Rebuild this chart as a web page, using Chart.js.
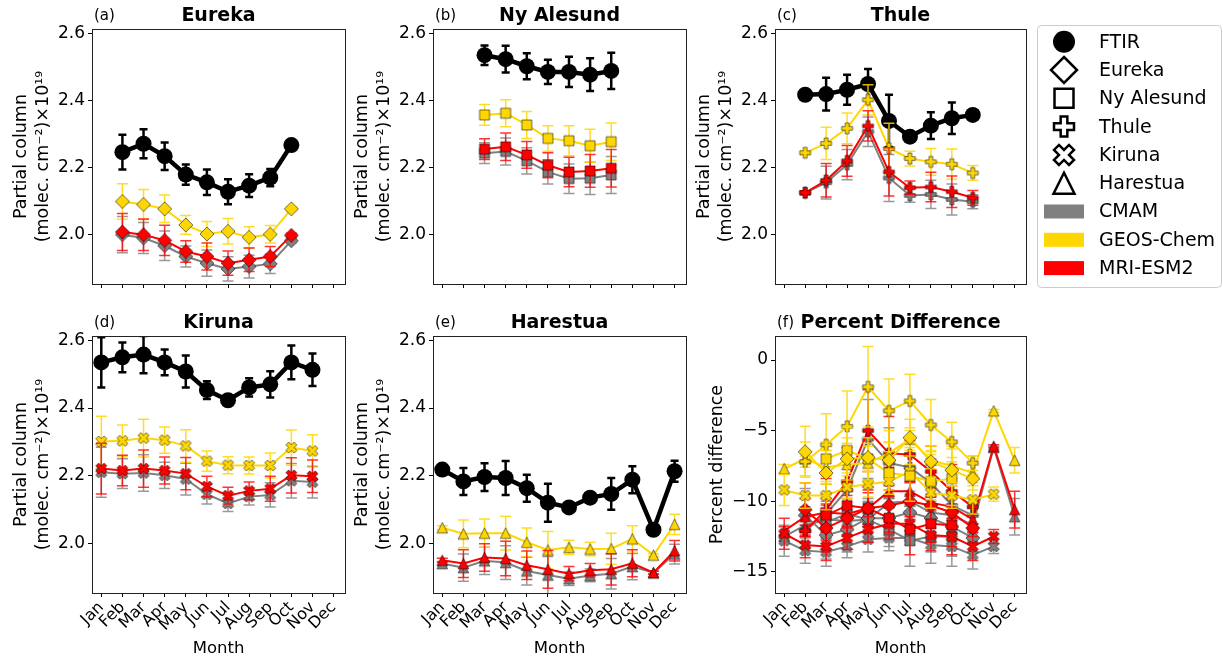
<!DOCTYPE html>
<html lang="en">
<head>
<meta charset="UTF-8">
<title>Partial column comparison</title>
<script src="https://cdn.jsdelivr.net/npm/chart.js"></script>
<style>
  body { margin: 0; background: #fff; }
  #wrap { position: relative; width: 1223px; height: 663px; overflow: hidden; background: #fff; }
  #wrap canvas { position: absolute; }
</style>
</head>
<body>
<div id="wrap">
  <canvas id="panelA"></canvas>
  <canvas id="panelB"></canvas>
  <canvas id="panelC"></canvas>
  <canvas id="panelD"></canvas>
  <canvas id="panelE"></canvas>
  <canvas id="panelF"></canvas>
  <canvas id="legend"></canvas>
</div>
<script>
// ---- data ----
const MONTH_NAMES = ['Jan', 'Feb', 'Mar', 'Apr', 'May', 'Jun', 'Jul', 'Aug', 'Sep', 'Oct', 'Nov', 'Dec'];
const MONTH_TICKS = [1, 2, 3, 4, 5, 6, 7, 8, 9, 10, 11, 12];
const COLUMN_TICKS = [2.0, 2.2, 2.4, 2.6];
const PERCENT_TICKS = [0, -5, -10, -15];

// Eureka
const eurekaMonths = [2, 3, 4, 5, 6, 7, 8, 9, 10];
const eurekaFtir = [2.246, 2.271, 2.234, 2.179, 2.156, 2.128, 2.146, 2.170, 2.267];
const eurekaFtirErr = [0.052, 0.043, 0.041, 0.030, 0.038, 0.037, 0.034, 0.026, 0.008];
const eurekaCmam = [2.000, 1.990, 1.967, 1.935, 1.915, 1.898, 1.905, 1.913, 1.982];
const eurekaCmamErr = [0.054, 0.046, 0.044, 0.031, 0.039, 0.036, 0.034, 0.029, 0.006];
const eurekaGeos = [2.099, 2.090, 2.077, 2.029, 2.002, 2.010, 1.992, 2.001, 2.077];
const eurekaGeosErr = [0.053, 0.045, 0.041, 0.028, 0.037, 0.038, 0.032, 0.026, 0.006];
const eurekaMri = [2.008, 2.000, 1.983, 1.950, 1.935, 1.915, 1.925, 1.935, 1.998];
const eurekaMriErr = [0.055, 0.047, 0.045, 0.032, 0.040, 0.036, 0.035, 0.030, 0.006];

// Ny Alesund
const nyMonths = [3, 4, 5, 6, 7, 8, 9];
const nyFtir = [2.535, 2.523, 2.502, 2.485, 2.485, 2.477, 2.488];
const nyFtirErr = [0.029, 0.040, 0.039, 0.036, 0.045, 0.049, 0.054];
const nyCmam = [2.243, 2.248, 2.220, 2.187, 2.167, 2.168, 2.178];
const nyCmamErr = [0.031, 0.040, 0.039, 0.036, 0.044, 0.048, 0.055];
const nyGeos = [2.357, 2.362, 2.327, 2.287, 2.280, 2.265, 2.277];
const nyGeosErr = [0.031, 0.040, 0.040, 0.038, 0.045, 0.049, 0.056];
const nyMri = [2.255, 2.262, 2.238, 2.207, 2.187, 2.190, 2.198];
const nyMriErr = [0.031, 0.041, 0.040, 0.037, 0.044, 0.049, 0.056];

// Thule
const thuleMonths = [2, 3, 4, 5, 6, 7, 8, 9, 10];
const thuleFtir = [2.417, 2.419, 2.432, 2.449, 2.339, 2.292, 2.325, 2.347, 2.357];
const thuleFtirErr = [0.008, 0.049, 0.045, 0.045, 0.078, 0.008, 0.040, 0.047, 0.010];
const thuleCmam = [2.125, 2.155, 2.209, 2.307, 2.169, 2.117, 2.120, 2.105, 2.098];
const thuleCmamErr = [0.006, 0.049, 0.045, 0.044, 0.070, 0.020, 0.042, 0.046, 0.021];
const thuleGeos = [2.244, 2.272, 2.317, 2.402, 2.257, 2.227, 2.217, 2.210, 2.184];
const thuleGeosErr = [0.006, 0.048, 0.046, 0.045, 0.075, 0.022, 0.040, 0.045, 0.022];
const thuleMri = [2.125, 2.162, 2.220, 2.324, 2.187, 2.140, 2.142, 2.128, 2.110];
const thuleMriErr = [0.006, 0.050, 0.046, 0.045, 0.072, 0.020, 0.044, 0.047, 0.022];

// Kiruna
const kirunaMonths = [1, 2, 3, 4, 5, 6, 7, 8, 9, 10, 11];
const kirunaFtir = [2.535, 2.550, 2.558, 2.535, 2.508, 2.453, 2.423, 2.461, 2.470, 2.535, 2.513];
const kirunaFtirErr = [0.074, 0.044, 0.055, 0.038, 0.047, 0.026, 0.010, 0.027, 0.039, 0.050, 0.048];
const kirunaCmam = [2.210, 2.206, 2.208, 2.201, 2.190, 2.145, 2.118, 2.138, 2.143, 2.185, 2.181];
const kirunaCmamErr = [0.074, 0.044, 0.054, 0.039, 0.047, 0.029, 0.024, 0.025, 0.036, 0.051, 0.047];
const kirunaGeos = [2.301, 2.303, 2.311, 2.305, 2.288, 2.243, 2.231, 2.230, 2.230, 2.283, 2.273];
const kirunaGeosErr = [0.075, 0.047, 0.056, 0.039, 0.048, 0.030, 0.025, 0.025, 0.037, 0.052, 0.048];
const kirunaMri = [2.221, 2.215, 2.221, 2.215, 2.206, 2.168, 2.141, 2.155, 2.161, 2.201, 2.198];
const kirunaMriErr = [0.075, 0.045, 0.055, 0.040, 0.048, 0.030, 0.025, 0.026, 0.037, 0.052, 0.048];

// Harestua
const harestuaMonths = [1, 2, 3, 4, 5, 6, 7, 8, 9, 10, 11, 12];
const harestuaFtir = [2.218, 2.183, 2.196, 2.193, 2.163, 2.120, 2.106, 2.135, 2.146, 2.188, 2.040, 2.213];
const harestuaFtirErr = [0.008, 0.040, 0.041, 0.050, 0.040, 0.056, 0.008, 0.010, 0.047, 0.040, 0.004, 0.031];
const harestuaCmam = [1.940, 1.928, 1.948, 1.943, 1.918, 1.906, 1.895, 1.905, 1.910, 1.931, 1.913, 1.968];
const harestuaCmamErr = [0.006, 0.040, 0.040, 0.050, 0.041, 0.055, 0.020, 0.019, 0.045, 0.039, 0.004, 0.029];
const harestuaGeos = [2.046, 2.028, 2.030, 2.030, 2.003, 1.980, 1.988, 1.983, 1.984, 2.013, 1.965, 2.056];
const harestuaGeosErr = [0.006, 0.041, 0.042, 0.050, 0.042, 0.055, 0.021, 0.020, 0.046, 0.039, 0.004, 0.030];
const harestuaMri = [1.950, 1.940, 1.958, 1.955, 1.935, 1.923, 1.910, 1.920, 1.923, 1.941, 1.913, 1.978];
const harestuaMriErr = [0.006, 0.041, 0.041, 0.051, 0.042, 0.056, 0.021, 0.020, 0.046, 0.040, 0.004, 0.030];

// percent difference, model vs FTIR
const eurekaGeosPct = [-6.5, -8.0, -7.0, -6.9, -7.1, -5.5, -7.2, -7.8, -8.4];
const eurekaGeosPctErr = [1.8, 1.6, 1.5, 1.0, 1.3, 1.3, 1.1, 0.9, 0.3];
const eurekaMriPct = [-10.6, -11.9, -11.2, -10.5, -10.3, -10.0, -10.3, -10.8, -11.9];
const eurekaMriPctErr = [1.9, 1.7, 1.6, 1.1, 1.4, 1.3, 1.2, 1.0, 0.3];
const eurekaCmamPct = [-11.0, -12.4, -12.0, -11.2, -11.2, -10.8, -11.2, -11.8, -12.6];
const eurekaCmamPctErr = [1.9, 1.7, 1.6, 1.1, 1.4, 1.3, 1.2, 1.0, 0.3];

const nyGeosPct = [-7.0, -6.4, -7.0, -8.0, -8.2, -8.6, -8.4];
const nyGeosPctErr = [1.2, 1.6, 1.5, 1.5, 1.8, 1.9, 2.1];
const nyMriPct = [-11.0, -10.3, -10.5, -11.2, -12.0, -11.6, -11.7];
const nyMriPctErr = [1.2, 1.6, 1.5, 1.5, 1.8, 1.9, 2.1];
const nyCmamPct = [-11.5, -10.9, -11.3, -12.0, -12.8, -12.5, -12.5];
const nyCmamPctErr = [1.2, 1.6, 1.5, 1.5, 1.8, 1.9, 2.1];

const thuleGeosPct = [-7.2, -6.0, -4.7, -1.9, -3.6, -2.9, -4.6, -5.8, -7.3];
const thuleGeosPctErr = [0.4, 2.2, 2.5, 2.85, 2.25, 1.9, 1.8, 1.4, 0.5];
const thuleMriPct = [-12.1, -10.6, -8.6, -5.0, -6.6, -6.7, -7.9, -9.3, -10.4];
const thuleMriPctErr = [0.4, 2.2, 2.4, 2.9, 2.6, 1.0, 1.8, 1.9, 0.6];
const thuleCmamPct = [-12.1, -10.9, -9.2, -5.6, -7.3, -7.6, -8.7, -10.3, -11.0];
const thuleCmamPctErr = [0.4, 2.1, 2.3, 2.8, 2.5, 1.0, 1.7, 1.9, 0.6];

const kirunaGeosPct = [-9.2, -9.6, -9.6, -9.0, -8.8, -8.6, -7.9, -9.4, -9.6, -9.9, -9.5];
const kirunaGeosPctErr = [1.1, 0.9, 1.0, 0.8, 0.9, 0.6, 0.5, 0.5, 0.7, 1.0, 0.5];
const kirunaMriPct = [-12.3, -13.1, -13.2, -12.6, -12.0, -11.6, -11.6, -12.4, -12.5, -13.2, -12.5];
const kirunaMriPctErr = [1.1, 0.9, 1.0, 0.8, 0.9, 0.6, 0.5, 0.5, 0.7, 1.0, 0.5];
const kirunaCmamPct = [-12.8, -13.5, -13.6, -13.2, -12.7, -12.6, -12.6, -13.1, -13.2, -13.8, -13.2];
const kirunaCmamPctErr = [1.1, 0.9, 1.0, 0.8, 0.9, 0.6, 0.5, 0.5, 0.7, 1.0, 0.5];

const harestuaGeosPct = [-7.7, -7.0, -7.6, -7.4, -7.3, -6.6, -5.6, -7.1, -7.5, -8.0, -3.6, -7.1];
const harestuaGeosPctErr = [0.3, 1.2, 1.2, 1.5, 1.2, 1.6, 0.6, 0.6, 1.4, 1.2, 0.1, 0.9];
const harestuaMriPct = [-12.1, -11.1, -10.8, -10.9, -10.5, -9.3, -9.3, -10.1, -10.4, -11.3, -6.1, -10.6];
const harestuaMriPctErr = [0.3, 1.3, 1.3, 1.6, 1.3, 1.7, 0.7, 0.6, 1.5, 1.2, 0.1, 1.3];
const harestuaCmamPct = [-12.5, -11.7, -11.3, -11.4, -11.3, -10.1, -10.0, -10.8, -11.0, -11.7, -6.2, -11.1];
const harestuaCmamPctErr = [0.3, 1.3, 1.3, 1.6, 1.3, 1.7, 0.7, 0.6, 1.5, 1.2, 0.1, 1.3];

// ---- styles ----
const FONT = 'DejaVu Sans';
const COLOR = { ftir: '#000000', cmam: '#808080', geos: '#FFD700', mri: '#FF0000' };
const ERR_COLOR = { cmam: 'rgba(128,128,128,0.8)', geos: 'rgba(255,215,0,0.85)', mri: 'rgba(255,0,0,0.8)' };
const EDGE = 'rgba(0,0,0,0.55)';

Chart.defaults.font.family = FONT;
Chart.defaults.color = '#000';

// matplotlib-like marker outlines, unit size
const SHAPES = {
  diamond: [[0, 1], [1, 0], [0, -1], [-1, 0]],
  square: [[-1, -1], [1, -1], [1, 1], [-1, 1]],
  triangle: [[0, 1], [-1, -1], [1, -1]],
  plus: [[-1, -3], [1, -3], [1, -1], [3, -1], [3, 1], [1, 1], [1, 3], [-1, 3], [-1, 1], [-3, 1], [-3, -1], [-1, -1]].map(p => [p[0] / 3, p[1] / 3]),
  cross: [[-1, -2], [0, -1], [1, -2], [2, -1], [1, 0], [2, 1], [1, 2], [0, 1], [-1, 2], [-2, 1], [-1, 0], [-2, -1]].map(p => [p[0] / 2, p[1] / 2])
};
const MARKER_SIZE = { diamond: 7, square: 5, triangle: 5.3, plus: 5.5, cross: 5.5 };

function tracePath(g, shape, s, x, y) {
  g.beginPath();
  SHAPES[shape].forEach(([px, py], i) => {
    if (i === 0) g.moveTo(x + px * s, y - py * s);
    else g.lineTo(x + px * s, y - py * s);
  });
  g.closePath();
}

const markerCache = {};
function marker(shape, fill) {
  const key = shape + fill;
  if (markerCache[key]) return markerCache[key];
  const s = MARKER_SIZE[shape];
  const size = Math.ceil(2 * s + 4);
  const c = document.createElement('canvas');
  c.width = c.height = size;
  const g = c.getContext('2d');
  tracePath(g, shape, s, size / 2, size / 2);
  g.fillStyle = fill;
  g.fill();
  g.lineWidth = 1;
  g.strokeStyle = EDGE;
  g.lineJoin = 'miter';
  g.stroke();
  markerCache[key] = c;
  return c;
}

function points(months, values) {
  return months.map((m, i) => ({ x: m, y: values[i] }));
}

function ftirSet(months, values, errors) {
  return {
    label: 'FTIR', data: points(months, values), errors,
    borderColor: COLOR.ftir, backgroundColor: COLOR.ftir, borderWidth: 4.5,
    pointStyle: 'circle', pointRadius: 8, pointBorderWidth: 0,
    errColor: '#000', errWidth: 2.5, capHalf: 4
  };
}

function modelSet(label, key, shape, months, values, errors) {
  return {
    label, data: points(months, values), errors,
    borderColor: COLOR[key], backgroundColor: COLOR[key], borderWidth: 2,
    pointStyle: marker(shape, COLOR[key]), pointRadius: 6,
    errColor: ERR_COLOR[key], errWidth: 1.5, capHalf: 5.5
  };
}

// ---- plugins ----
const errorBars = {
  id: 'errorBars',
  beforeDatasetDraw(chart, args) {
    const ds = chart.data.datasets[args.index];
    if (!ds.errors) return;
    const { ctx, chartArea } = chart;
    const yScale = chart.scales.y;
    ctx.save();
    ctx.beginPath();
    ctx.rect(chartArea.left, chartArea.top, chartArea.right - chartArea.left, chartArea.bottom - chartArea.top);
    ctx.clip();
    ctx.strokeStyle = ds.errColor;
    ctx.lineWidth = ds.errWidth;
    args.meta.data.forEach((pt, i) => {
      const v = ds.data[i].y, e = ds.errors[i];
      const yHi = yScale.getPixelForValue(v + e);
      const yLo = yScale.getPixelForValue(v - e);
      ctx.beginPath();
      ctx.moveTo(pt.x, yHi); ctx.lineTo(pt.x, yLo);
      ctx.moveTo(pt.x - ds.capHalf, yHi); ctx.lineTo(pt.x + ds.capHalf, yHi);
      ctx.moveTo(pt.x - ds.capHalf, yLo); ctx.lineTo(pt.x + ds.capHalf, yLo);
      ctx.stroke();
    });
    ctx.restore();
  }
};

const frame = {
  id: 'frame',
  afterDatasetsDraw(chart) {
    const { ctx, chartArea: a } = chart;
    ctx.save();
    ctx.strokeStyle = '#222';
    ctx.lineWidth = 1;
    ctx.strokeRect(Math.round(a.left) + 0.5, Math.round(a.top) + 0.5, Math.round(a.right - a.left), Math.round(a.bottom - a.top));
    ctx.restore();
  }
};

const panelTitle = {
  id: 'panelTitle',
  afterDraw(chart, args, opts) {
    const { ctx, chartArea: a } = chart;
    ctx.save();
    ctx.fillStyle = '#000';
    ctx.textBaseline = 'middle';
    ctx.textAlign = 'center';
    ctx.font = 'bold 19px ' + FONT;
    ctx.fillText(opts.title, (a.left + a.right) / 2, a.top - 13);
    ctx.textAlign = 'left';
    ctx.font = '15px ' + FONT;
    ctx.fillText(opts.letter, a.left + 2, a.top - 13);
    ctx.restore();
  }
};

// ---- panel builder ----
function makePanel(cfg) {
  const [cx, cy, cw, ch] = cfg.canvas;
  const [L, T, W, H] = cfg.area;
  const canvas = document.getElementById(cfg.id);
  canvas.width = cw; canvas.height = ch;
  canvas.style.left = cx + 'px'; canvas.style.top = cy + 'px';
  const yTicks = cfg.percent ? PERCENT_TICKS : COLUMN_TICKS;
  return new Chart(canvas, {
    type: 'line',
    data: { datasets: cfg.datasets },
    options: {
      responsive: false, animation: false, events: [],
      layout: { padding: { left: 0, top: T - cy, right: cx + cw - (L + W), bottom: 0 } },
      elements: { line: { tension: 0 } },
      plugins: {
        legend: { display: false }, tooltip: { enabled: false },
        panelTitle: { title: cfg.title, letter: cfg.letter }
      },
      scales: {
        x: {
          type: 'linear', min: 0.56, max: 12.54,
          afterBuildTicks: s => { s.ticks = MONTH_TICKS.map(v => ({ value: v })); },
          afterFit: s => { s.height = cy + ch - (T + H); },
          border: { display: false },
          grid: { drawOnChartArea: false, drawTicks: true, tickLength: 4, color: '#000' },
          ticks: {
            display: cfg.bottom, autoSkip: false, minRotation: 45, maxRotation: 45, padding: 1,
            font: { size: 16 }, color: '#000', callback: v => MONTH_NAMES[v - 1]
          },
          title: { display: cfg.bottom, text: 'Month', font: { size: 16.5 }, color: '#000', padding: { top: 0, bottom: 4 } }
        },
        y: {
          type: 'linear', min: cfg.yMin, max: cfg.yMax,
          afterBuildTicks: s => { s.ticks = yTicks.map(v => ({ value: v })); },
          afterFit: s => { s.width = L - cx; },
          border: { display: false },
          grid: { drawOnChartArea: false, drawTicks: true, tickLength: 4, color: '#000' },
          ticks: {
            padding: 3, font: { size: 17 }, color: '#000',
            callback: v => cfg.percent ? (v === 0 ? '0' : '\u2212' + Math.abs(v)) : v.toFixed(1)
          },
          title: {
            display: true, text: cfg.yTitle, font: { size: 17.5, lineHeight: 1.26 }, color: '#000',
            padding: { top: cfg.yTitlePad, bottom: 0 }
          }
        }
      }
    },
    plugins: [errorBars, frame, panelTitle]
  });
}

const COLUMN_TITLE = ['Partial column', '(molec. cm\u207B\u00B2)\u00D710\u00B9\u2079'];
const COL_W = 253;
const TOP_ROW = { cy: 0, ch: 300, T: 29, H: 255 };
const BOT_ROW = { cy: 300, ch: 363, T: 336, H: 257 };
const COL_LEFT = [92, 433, 775];

function stationPanel(id, col, row, title, letter, shape, months, ftir, ftirErr, cmam, cmamErr, geos, geosErr, mri, mriErr) {
  const L = COL_LEFT[col];
  return makePanel({
    id, title, letter,
    canvas: [L - 92, row.cy, 92 + COL_W + (col === 2 ? 6 : 12), row.ch],
    area: [L, row.T, COL_W, row.H],
    bottom: row === BOT_ROW, percent: false,
    yMin: 1.853, yMax: 2.613, yTitle: COLUMN_TITLE, yTitlePad: 10,
    datasets: [
      modelSet('MRI-ESM2', 'mri', shape, months, mri, mriErr),
      modelSet('GEOS-Chem', 'geos', shape, months, geos, geosErr),
      modelSet('CMAM', 'cmam', shape, months, cmam, cmamErr),
      ftirSet(months, ftir, ftirErr)
    ]
  });
}

stationPanel('panelA', 0, TOP_ROW, 'Eureka', '(a)', 'diamond', eurekaMonths,
  eurekaFtir, eurekaFtirErr, eurekaCmam, eurekaCmamErr, eurekaGeos, eurekaGeosErr, eurekaMri, eurekaMriErr);
stationPanel('panelB', 1, TOP_ROW, 'Ny Alesund', '(b)', 'square', nyMonths,
  nyFtir, nyFtirErr, nyCmam, nyCmamErr, nyGeos, nyGeosErr, nyMri, nyMriErr);
stationPanel('panelC', 2, TOP_ROW, 'Thule', '(c)', 'plus', thuleMonths,
  thuleFtir, thuleFtirErr, thuleCmam, thuleCmamErr, thuleGeos, thuleGeosErr, thuleMri, thuleMriErr);
stationPanel('panelD', 0, BOT_ROW, 'Kiruna', '(d)', 'cross', kirunaMonths,
  kirunaFtir, kirunaFtirErr, kirunaCmam, kirunaCmamErr, kirunaGeos, kirunaGeosErr, kirunaMri, kirunaMriErr);
stationPanel('panelE', 1, BOT_ROW, 'Harestua', '(e)', 'triangle', harestuaMonths,
  harestuaFtir, harestuaFtirErr, harestuaCmam, harestuaCmamErr, harestuaGeos, harestuaGeosErr, harestuaMri, harestuaMriErr);

// percent difference panel: GEOS-Chem drawn on top, then MRI-ESM2, then CMAM
makePanel({
  id: 'panelF', title: 'Percent Difference', letter: '(f)',
  canvas: [COL_LEFT[2] - 92, BOT_ROW.cy, 92 + COL_W + 6, BOT_ROW.ch],
  area: [COL_LEFT[2], BOT_ROW.T, COL_W, BOT_ROW.H],
  bottom: true, percent: true,
  yMin: -16.5, yMax: 1.7, yTitle: 'Percent difference', yTitlePad: 23,
  datasets: [
    modelSet('Eureka GEOS-Chem', 'geos', 'diamond', eurekaMonths, eurekaGeosPct, eurekaGeosPctErr),
    modelSet('Ny Alesund GEOS-Chem', 'geos', 'square', nyMonths, nyGeosPct, nyGeosPctErr),
    modelSet('Thule GEOS-Chem', 'geos', 'plus', thuleMonths, thuleGeosPct, thuleGeosPctErr),
    modelSet('Kiruna GEOS-Chem', 'geos', 'cross', kirunaMonths, kirunaGeosPct, kirunaGeosPctErr),
    modelSet('Harestua GEOS-Chem', 'geos', 'triangle', harestuaMonths, harestuaGeosPct, harestuaGeosPctErr),
    modelSet('Eureka MRI-ESM2', 'mri', 'diamond', eurekaMonths, eurekaMriPct, eurekaMriPctErr),
    modelSet('Ny Alesund MRI-ESM2', 'mri', 'square', nyMonths, nyMriPct, nyMriPctErr),
    modelSet('Thule MRI-ESM2', 'mri', 'plus', thuleMonths, thuleMriPct, thuleMriPctErr),
    modelSet('Kiruna MRI-ESM2', 'mri', 'cross', kirunaMonths, kirunaMriPct, kirunaMriPctErr),
    modelSet('Harestua MRI-ESM2', 'mri', 'triangle', harestuaMonths, harestuaMriPct, harestuaMriPctErr),
    modelSet('Eureka CMAM', 'cmam', 'diamond', eurekaMonths, eurekaCmamPct, eurekaCmamPctErr),
    modelSet('Ny Alesund CMAM', 'cmam', 'square', nyMonths, nyCmamPct, nyCmamPctErr),
    modelSet('Thule CMAM', 'cmam', 'plus', thuleMonths, thuleCmamPct, thuleCmamPctErr),
    modelSet('Kiruna CMAM', 'cmam', 'cross', kirunaMonths, kirunaCmamPct, kirunaCmamPctErr),
    modelSet('Harestua CMAM', 'cmam', 'triangle', harestuaMonths, harestuaCmamPct, harestuaCmamPctErr)
  ]
});

// ---- shared legend ----
(function drawLegend() {
  const canvas = document.getElementById('legend');
  canvas.width = 193; canvas.height = 275;
  canvas.style.left = '1030px'; canvas.style.top = '20px';
  const g = canvas.getContext('2d');

  // rounded frame
  g.strokeStyle = '#cccccc';
  g.lineWidth = 1;
  g.beginPath();
  g.roundRect(7.5, 5.5, 184, 262, 4);
  g.stroke();

  const entries = [
    { text: 'FTIR', kind: 'circle' },
    { text: 'Eureka', kind: 'diamond', s: 13 },
    { text: 'Ny Alesund', kind: 'square', s: 9.5 },
    { text: 'Thule', kind: 'plus', s: 10 },
    { text: 'Kiruna', kind: 'cross', s: 10 },
    { text: 'Harestua', kind: 'triangle', s: 10.5 },
    { text: 'CMAM', kind: 'patch', color: COLOR.cmam },
    { text: 'GEOS-Chem', kind: 'patch', color: COLOR.geos },
    { text: 'MRI-ESM2', kind: 'patch', color: COLOR.mri }
  ];
  const mx = 34, tx = 69;
  g.font = '19px ' + FONT;
  g.textBaseline = 'middle';
  entries.forEach((e, i) => {
    const y = 21.7 + i * 28.3;
    if (e.kind === 'circle') {
      g.fillStyle = '#000';
      g.beginPath(); g.arc(mx, y, 11, 0, Math.PI * 2); g.fill();
    } else if (e.kind === 'patch') {
      g.fillStyle = e.color;
      g.fillRect(14, y - 7, 40, 14);
    } else {
      tracePath(g, e.kind, e.s, mx, y);
      g.fillStyle = '#fff'; g.fill();
      g.lineWidth = 2.5; g.strokeStyle = '#000'; g.lineJoin = 'miter'; g.stroke();
    }
    g.fillStyle = '#000';
    g.fillText(e.text, tx, y + 1);
  });
})();
</script>
</body>
</html>
